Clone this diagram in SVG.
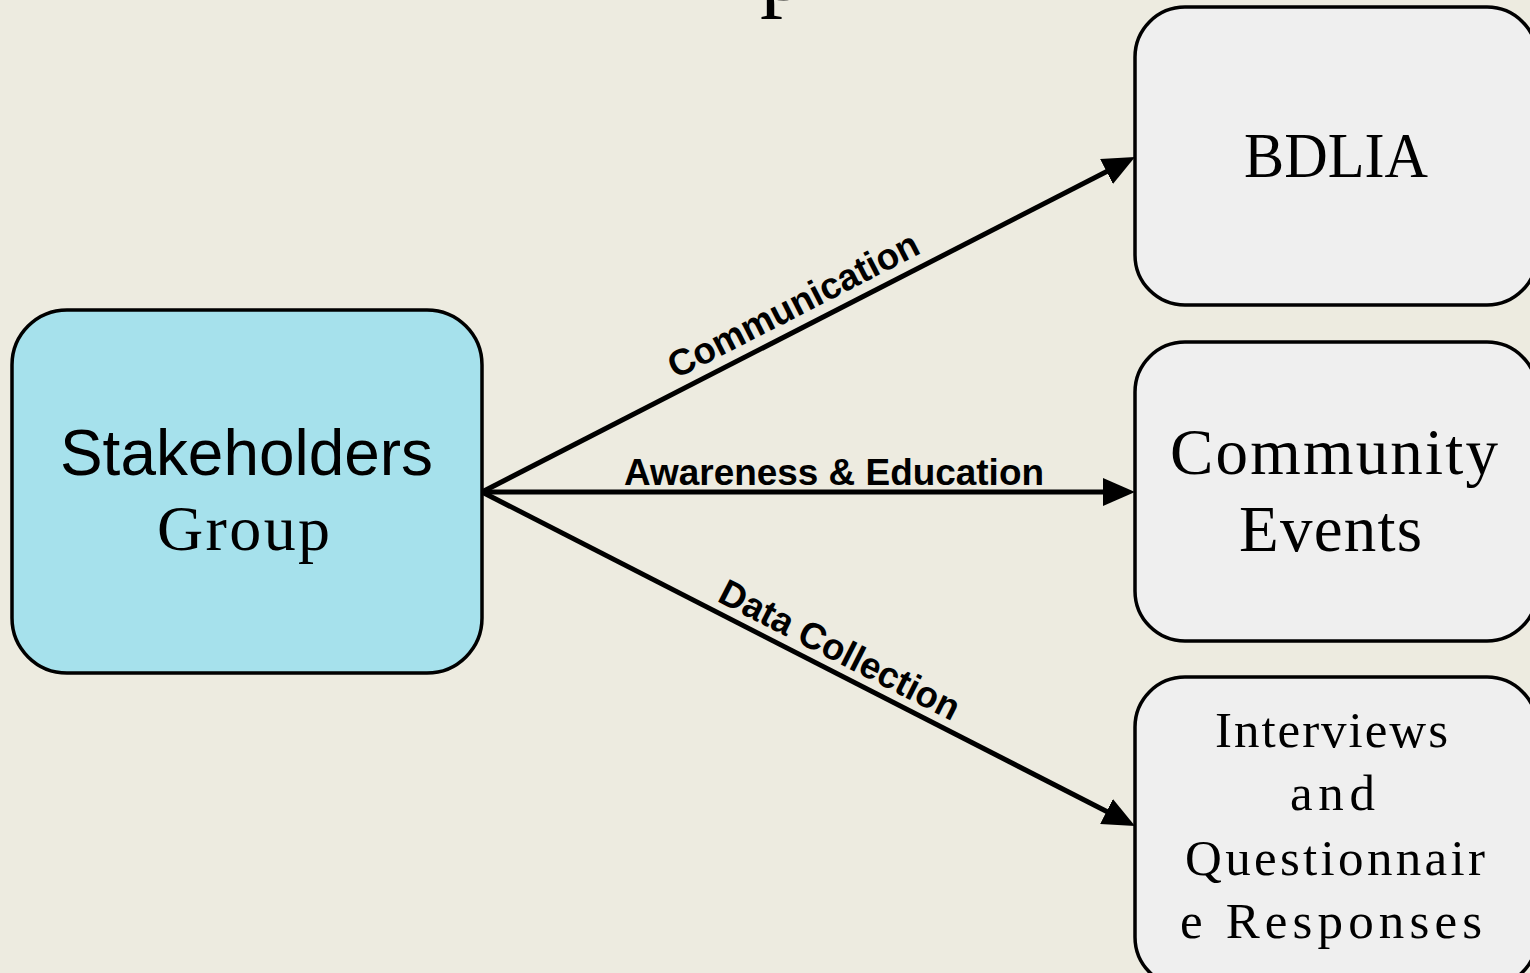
<svg xmlns="http://www.w3.org/2000/svg" width="1530" height="973" viewBox="0 0 1530 973">
  <style>
    .node { stroke: #000; stroke-width: 3.5; }
    .src { fill: #a6e1ec; }
    .dst { fill: #efefef; }
    .sans { font-family: "Liberation Sans", Arial, sans-serif; fill: #000; }
    .serif { font-family: "Liberation Serif", "Times New Roman", serif; fill: #000; }
    .edge { stroke: #000; stroke-width: 5; fill: none; }
    .elabel { font-family: "Liberation Sans", Arial, sans-serif; font-weight: bold; font-size: 37px; fill: #000; }
  </style>
  <defs>
    <marker id="arrow" markerUnits="userSpaceOnUse" markerWidth="32" markerHeight="28" refX="3" refY="14" orient="auto">
      <path d="M0,0 L32,14 L0,28 z" fill="#000"/>
    </marker>
  </defs>

  <rect width="1530" height="973" fill="#edebe0"/>

  <!-- graph title, mostly above the top edge -->
  <text id="title" class="serif" x="760" y="0" font-size="92">p</text>

  <g id="connectors">
    <line class="edge" x1="482" y1="492" x2="1109.2" y2="170.2" marker-end="url(#arrow)"/>
    <line class="edge" x1="482" y1="492" x2="1106" y2="492" marker-end="url(#arrow)"/>
    <line class="edge" x1="482" y1="492" x2="1109.2" y2="812.8" marker-end="url(#arrow)"/>
    <text class="elabel" x="799" y="316" text-anchor="middle" textLength="277" lengthAdjust="spacingAndGlyphs" transform="rotate(-27.16 799 316)">Communication</text>
    <text class="elabel" x="624" y="485" textLength="420" lengthAdjust="spacingAndGlyphs">Awareness &amp; Education</text>
    <text class="elabel" x="834" y="661" text-anchor="middle" textLength="265" lengthAdjust="spacingAndGlyphs" transform="rotate(27.09 834 661)">Data Collection</text>
  </g>

  <g id="stakeholders">
    <rect class="node src" x="12" y="310" width="470" height="363" rx="55" ry="55"/>
    <text class="sans" x="60" y="475" font-size="64" textLength="373" lengthAdjust="spacingAndGlyphs">Stakeholders</text>
    <text class="serif" x="157" y="550" font-size="64" textLength="173" lengthAdjust="spacing">Group</text>
  </g>

  <g id="bdlia">
    <rect class="node dst" x="1135" y="7" width="402" height="298" rx="50" ry="50"/>
    <text class="serif" x="1244" y="177" font-size="63" textLength="184" lengthAdjust="spacingAndGlyphs">BDLIA</text>
  </g>

  <g id="community-events">
    <rect class="node dst" x="1135" y="342" width="402" height="299" rx="50" ry="50"/>
    <text class="serif" x="1170" y="474" font-size="65" textLength="328" lengthAdjust="spacing">Community</text>
    <text class="serif" x="1239" y="551" font-size="65" textLength="183" lengthAdjust="spacing">Events</text>
  </g>

  <g id="interviews">
    <rect class="node dst" x="1135" y="677" width="402" height="310" rx="50" ry="50"/>
    <text class="serif" x="1215" y="747" font-size="51" textLength="233" lengthAdjust="spacing">Interviews</text>
    <text class="serif" x="1290" y="810" font-size="51" textLength="85" lengthAdjust="spacing">and</text>
    <text class="serif" x="1185" y="875" font-size="51" textLength="300" lengthAdjust="spacing">Questionnair</text>
    <text class="serif" x="1180" y="938" font-size="51" textLength="302" lengthAdjust="spacing">e Responses</text>
  </g>
</svg>
